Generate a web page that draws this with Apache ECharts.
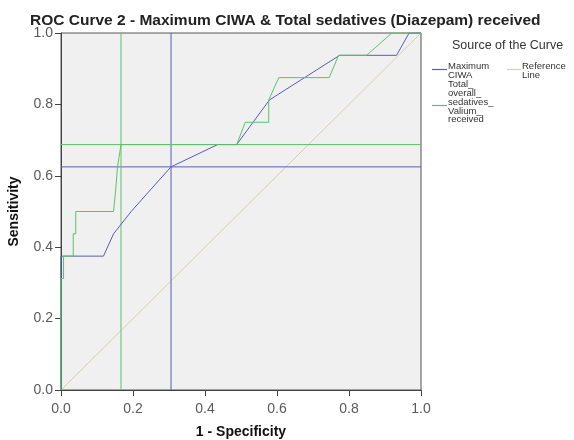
<!DOCTYPE html>
<html>
<head>
<meta charset="utf-8">
<script src="https://cdn.jsdelivr.net/npm/echarts@6/dist/echarts.min.js"></script>
<style>html,body{margin:0;padding:0;background:#fff;}#c{width:574px;height:440px;}</style>
</head>
<body>
<div id="c"></div>
<script>
var titleText = 'ROC Curve 2 - Maximum CIWA & Total sedatives (Diazepam) received';
var xName = '1 - Specificity';
var yName = 'Sensitivity';

// Maximum CIWA curve (1 - specificity, sensitivity)
var ciwaX = [0, 0, 0.118, 0.146, 0.195, 0.25, 0.3056, 0.435, 0.488, 0.579, 0.774, 0.932, 0.967, 1.0];
var ciwaY = [0, 0.375, 0.375, 0.4375, 0.5, 0.5625, 0.625, 0.6875, 0.6875, 0.8125, 0.9375, 0.9375, 1.0, 1.0];

// Total overall sedatives (Valium) received curve
var sedX = [0, 0, 0.007, 0.007, 0.034, 0.034, 0.041, 0.041, 0.146, 0.152, 0.157, 0.1667, 0.488, 0.512, 0.577, 0.577, 0.605, 0.745, 0.771, 0.849, 0.919, 1.0];
var sedY = [0, 0.3125, 0.3125, 0.375, 0.375, 0.4375, 0.4375, 0.5, 0.5, 0.5625, 0.625, 0.6875, 0.6875, 0.75, 0.75, 0.8125, 0.875, 0.875, 0.9375, 0.9375, 1.0, 1.0];

// Reference line
var refX = [0, 1];
var refY = [0, 1];

// Optimal cut-off crosshairs [1 - specificity, sensitivity]
var ciwaCut = [0.3056, 0.625];
var sedCut = [0.1667, 0.6875];

var legendTitle = 'Source of the Curve';
var legendCiwa = ['Maximum', 'CIWA'];
var legendRef = ['Reference', 'Line'];
var legendSed = ['Total_', 'overall_', 'sedatives_', 'Valium_', 'received'];

var BLUE = '#5a5db2';
var GREEN = '#5cc266';
var REF = '#d9cfb4';

function pairs(xs, ys) { return xs.map(function (x, i) { return [x, ys[i]]; }); }
function vline(x) { return [[x, 0], [x, 1]]; }
function hline(y) { return [[0, y], [1, y]]; }

var chart = echarts.init(document.getElementById('c'), null, { renderer: 'canvas' });

var axisCommon = {
  type: 'value', min: 0, max: 1, interval: 0.2,
  axisLine: { show: true, onZero: false, lineStyle: { color: '#444', width: 1 } },
  axisTick: { show: true, inside: false, length: 6, lineStyle: { color: '#444' } },
  splitLine: { show: false },
  nameTextStyle: { fontFamily: 'Liberation Sans', fontWeight: 'bold', fontSize: 14, color: '#111' },
  axisLabel: { fontFamily: 'Liberation Sans', fontSize: 14, color: '#5a5a5a',
    formatter: function (v) { return v.toFixed(1); } }
};

function legendText(lines, x, top, lh) {
  return { type: 'text', left: x, top: top,
    style: { text: lines.join('\n'), fontFamily: 'Liberation Sans', fontSize: 9.5, lineHeight: lh, fill: '#333' } };
}

var graphics = [
  { type: 'text', left: 452, top: 39,
    style: { text: legendTitle, fontFamily: 'Liberation Sans', fontSize: 12.5, fill: '#333' } },
  { type: 'line', shape: { x1: 432, y1: 69.5, x2: 447, y2: 69.5 }, style: { stroke: BLUE, lineWidth: 1.2 } },
  { type: 'line', shape: { x1: 507, y1: 69.5, x2: 521, y2: 69.5 }, style: { stroke: REF, lineWidth: 1.2 } },
  { type: 'line', shape: { x1: 432, y1: 105.5, x2: 447, y2: 105.5 }, style: { stroke: GREEN, lineWidth: 1.2 } },
  legendText(legendCiwa, 448, 61, 9.3),
  legendText(legendRef, 522, 61, 9.3),
  legendText(legendSed, 448, 79.5, 8.8)
];

function lineSeries(name, data, color, z) {
  return { name: name, type: 'line', data: data, symbol: 'none', silent: true,
    lineStyle: { color: color, width: 1 }, itemStyle: { color: color }, z: z };
}

chart.setOption({
  animation: false,
  backgroundColor: '#ffffff',
  title: {
    text: titleText, left: 30, top: 13, padding: 0,
    textStyle: { fontFamily: 'Liberation Sans', fontWeight: 'bold', fontSize: 15.5, color: '#222' }
  },
  grid: {
    left: 61, right: 153, top: 33, bottom: 50,
    outerBoundsMode: 'none', containLabel: false,
    show: true, backgroundColor: '#f0f0f0', borderColor: '#555', borderWidth: 1
  },
  xAxis: Object.assign({}, axisCommon, {
    name: xName, nameLocation: 'middle', nameGap: 35,
    axisLabel: Object.assign({}, axisCommon.axisLabel, { margin: 12 })
  }),
  yAxis: Object.assign({}, axisCommon, {
    name: yName, nameLocation: 'middle', nameGap: 40, nameRotate: 90,
    axisLabel: Object.assign({}, axisCommon.axisLabel, { margin: 8 })
  }),
  graphic: graphics,
  series: [
    lineSeries('Reference Line', pairs(refX, refY), REF, 2),
    lineSeries('CIWA cut-off x', vline(ciwaCut[0]), BLUE, 3),
    lineSeries('CIWA cut-off y', hline(ciwaCut[1]), BLUE, 3),
    lineSeries('Sedatives cut-off x', vline(sedCut[0]), GREEN, 3),
    lineSeries('Sedatives cut-off y', hline(sedCut[1]), GREEN, 3),
    lineSeries('Maximum CIWA', pairs(ciwaX, ciwaY), BLUE, 4),
    lineSeries('Total_overall_sedatives_Valium_received', pairs(sedX, sedY), GREEN, 5)
  ]
});
</script>
</body>
</html>
